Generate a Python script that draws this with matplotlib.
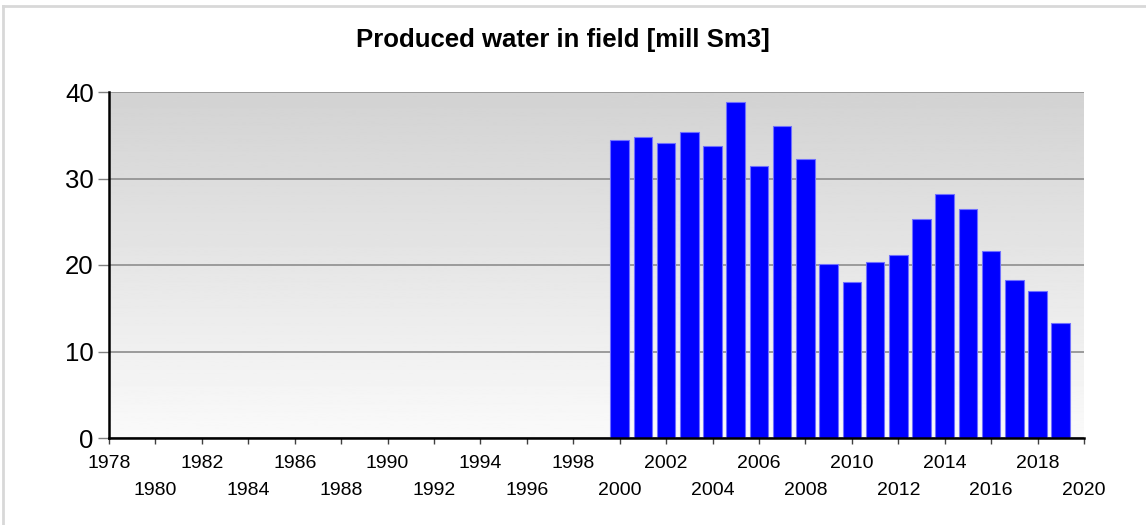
import numpy as np
import matplotlib
matplotlib.use("Agg")
import matplotlib.pyplot as plt
from matplotlib.lines import Line2D

plt.rcParams["font.family"] = ["Liberation Sans", "DejaVu Sans"]

years = list(range(2000, 2020))
water = [34.5, 34.8, 34.1, 35.4, 33.7, 38.9, 31.5, 36.1, 32.2, 20.1,
         18.0, 20.4, 21.2, 25.3, 28.2, 26.5, 21.6, 18.3, 17.0, 13.3]
row1_ticks = list(range(1978, 2021, 4))
row2_ticks = list(range(1980, 2021, 4))
y_ticks = [0, 10, 20, 30, 40]

W, H = 1146, 525
fig = plt.figure(figsize=(W / 100, H / 100), dpi=100)
ax = fig.add_axes([109 / W, 1 - 438 / H, (1084 - 109) / W, (438 - 92) / H])

# gray gradient background, dark at top
grad = np.linspace(0.98, 0.825, 256).reshape(-1, 1)
ax.imshow(grad, cmap="gray", vmin=0, vmax=1, aspect="auto",
          extent=[1978, 2020, 0, 40], origin="lower", zorder=0)

ax.bar(years, water, width=0.8, color="#0000ff", edgecolor="#7070ff",
       linewidth=0.8, zorder=3)

ax.set_xlim(1978, 2020)
ax.set_ylim(0, 40)

ax.set_yticks(y_ticks)
ax.set_yticklabels([str(v) for v in y_ticks], fontsize=18.5)
ax.yaxis.grid(True, color="#9a9a9a", linewidth=1.4, zorder=1)
ax.set_axisbelow(False)

ax.set_xticks(row1_ticks)
ax.set_xticklabels([str(v) for v in row1_ticks], fontsize=14)
ax.set_xticks(row2_ticks, minor=True)
ax.set_xticklabels([str(v) for v in row2_ticks], minor=True, fontsize=14)

ax.tick_params(axis="y", length=8, width=1, color="#808080", pad=3, labelcolor="black")
ax.tick_params(axis="x", which="major", length=4, width=1, color="#404040", pad=8)
ax.tick_params(axis="x", which="minor", length=4, width=1, color="#404040", pad=28)

for s in ["top", "right"]:
    ax.spines[s].set_visible(False)
for s in ["left", "bottom"]:
    ax.spines[s].set_linewidth(1.8)
    ax.spines[s].set_color("black")
    ax.spines[s].set_zorder(4)

fig.text(563 / W, 1 - 40 / H, "Produced water in field [mill Sm3]",
         ha="center", va="center", fontsize=18.5, fontweight="bold")

# light frame around the chart
fig.add_artist(Line2D([3 / W, 1], [1 - 6 / H, 1 - 6 / H], color="#d8d8d8", linewidth=2))
fig.add_artist(Line2D([3 / W, 3 / W], [0, 1 - 6 / H], color="#d8d8d8", linewidth=2))

fig.savefig("out.png", dpi=100)
plt.close(fig)
